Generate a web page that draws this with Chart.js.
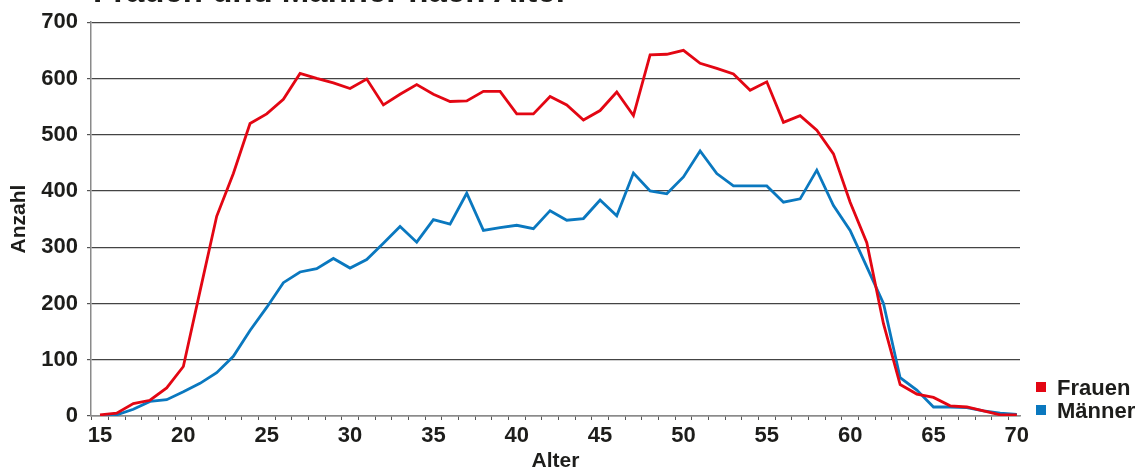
<!DOCTYPE html>
<html>
<head>
<meta charset="utf-8">
<script src="https://cdn.jsdelivr.net/npm/chart.js@4.4.0/dist/chart.umd.min.js"></script>
<style>
  body { margin: 0; background: #fff; }
  #wrap { position: relative; width: 1137px; height: 470px; overflow: hidden; font-family: "Liberation Sans", Arial, sans-serif; color: #1d1d1b; }
  #box { position: absolute; left: 0; top: 0; width: 1137px; height: 470px; }
  #title { position: absolute; left: 93px; top: -26px; font-weight: bold; font-size: 33px; line-height: 33px; white-space: nowrap; }
  .key { position: absolute; left: 1036px; font-weight: bold; font-size: 22px; line-height: 22px; padding-left: 21px; white-space: nowrap; }
  .key span { position: absolute; left: 0; top: 5px; width: 10px; height: 10px; }
</style>
</head>
<body>
<div id="wrap">
  <div id="box"><canvas id="myChart"></canvas></div>
  <div id="title">Frauen und Männer nach Alter</div>
  <div class="key" style="top:377px"><span style="background:#e30613"></span>Frauen</div>
  <div class="key" style="top:400px"><span style="background:#0a78bf"></span>Männer</div>
</div>
<script>
// ages on the x axis
const ages = [15, 16, 17, 18, 19, 20, 21, 22, 23, 24, 25, 26, 27, 28, 29, 30, 31, 32, 33, 34,
  35, 36, 37, 38, 39, 40, 41, 42, 43, 44, 45, 46, 47, 48, 49, 50, 51, 52, 53, 54,
  55, 56, 57, 58, 59, 60, 61, 62, 63, 64, 65, 66, 67, 68, 69, 70];
// counts
const frauen = [2, 5, 22, 28, 50, 88, 222, 355, 431, 520, 537, 563, 609, 600, 592, 582, 599, 553, 572, 589,
  572, 559, 560, 577, 577, 537, 537, 568, 553, 526, 543, 576, 534, 642, 643, 650, 627, 618, 608, 579,
  594, 522, 534, 508, 466, 380, 308, 164, 56, 39, 33, 18, 16, 9, 2, 2];
const maenner = [1, 2, 12, 26, 29, 43, 58, 77, 106, 152, 193, 237, 256, 262, 280, 263, 278, 307, 337, 309,
  349, 341, 396, 330, 335, 339, 333, 365, 348, 351, 384, 356, 432, 400, 395, 425, 471, 431, 409, 409,
  409, 380, 386, 437, 374, 330, 265, 200, 68, 46, 16, 16, 15, 9, 5, 3];
const xTickLabels = [15, 20, 25, 30, 35, 40, 45, 50, 55, 60, 65, 70];
const yTickLabels = [0, 100, 200, 300, 400, 500, 600, 700];

const ctx = document.getElementById('myChart').getContext('2d');
const tickFont = { family: '"Liberation Sans", Arial, sans-serif', size: 22, weight: 'bold' };
const titleFont = { family: '"Liberation Sans", Arial, sans-serif', size: 21, weight: 'bold' };

const myChart = new Chart(ctx, {
  type: 'line',
  data: {
    datasets: [{
      label: 'Frauen',
      data: ages.map((a, i) => ({ x: a, y: frauen[i] })),
      borderColor: '#e30613',
      borderWidth: 2.8,
      pointRadius: 0,
      tension: 0
    }, {
      label: 'Männer',
      data: ages.map((a, i) => ({ x: a, y: maenner[i] })),
      borderColor: '#0a78bf',
      borderWidth: 2.8,
      pointRadius: 0,
      tension: 0
    }]
  },
  options: {
    responsive: true,
    maintainAspectRatio: false,
    animation: false,
    layout: { padding: { left: 0, top: 19, right: 117, bottom: 0 } },
    plugins: { legend: { display: false }, tooltip: { enabled: false } },
    scales: {
      x: {
        type: 'linear',
        min: 14.46,
        max: 70.19,
        afterFit: (scale) => { scale.height = 54; },
        afterBuildTicks: (scale) => {
          // a mark between the years, a label under the years
          const t = [];
          ages.forEach(a => { t.push({ value: a - 0.5 }); t.push({ value: a }); });
          scale.ticks = t.filter(k => k.value >= scale.min && k.value <= scale.max);
        },
        ticks: {
          autoSkip: false,
          maxRotation: 0,
          padding: 3,
          color: '#1d1d1b',
          font: tickFont,
          callback: (v) => xTickLabels.includes(v) ? String(v) : ''
        },
        grid: {
          drawOnChartArea: false,
          drawTicks: true,
          tickLength: 4,
          tickWidth: 1,
          tickColor: (c) => (c.tick && Number.isInteger(c.tick.value)) ? 'rgba(0,0,0,0)' : '#555'
        },
        border: { color: '#8a8a8a', width: 1.5 },
        title: {
          display: true,
          text: 'Alter',
          color: '#1d1d1b',
          font: Object.assign({}, titleFont, { lineHeight: 0.85 }),
          padding: { top: 0, bottom: 0 }
        }
      },
      y: {
        min: 0,
        max: 700,
        afterFit: (scale) => { scale.width = 91; },
        afterBuildTicks: (scale) => { scale.ticks = yTickLabels.map(v => ({ value: v })); },
        ticks: { padding: 9, color: '#1d1d1b', font: tickFont },
        grid: { color: '#444', lineWidth: 1.2, tickLength: 4, tickColor: '#555' },
        border: { color: '#8a8a8a', width: 1.5 },
        title: {
          display: true,
          text: 'Anzahl',
          color: '#1d1d1b',
          font: titleFont,
          padding: { top: 7, bottom: 0 }
        }
      }
    }
  }
});
</script>
</body>
</html>
